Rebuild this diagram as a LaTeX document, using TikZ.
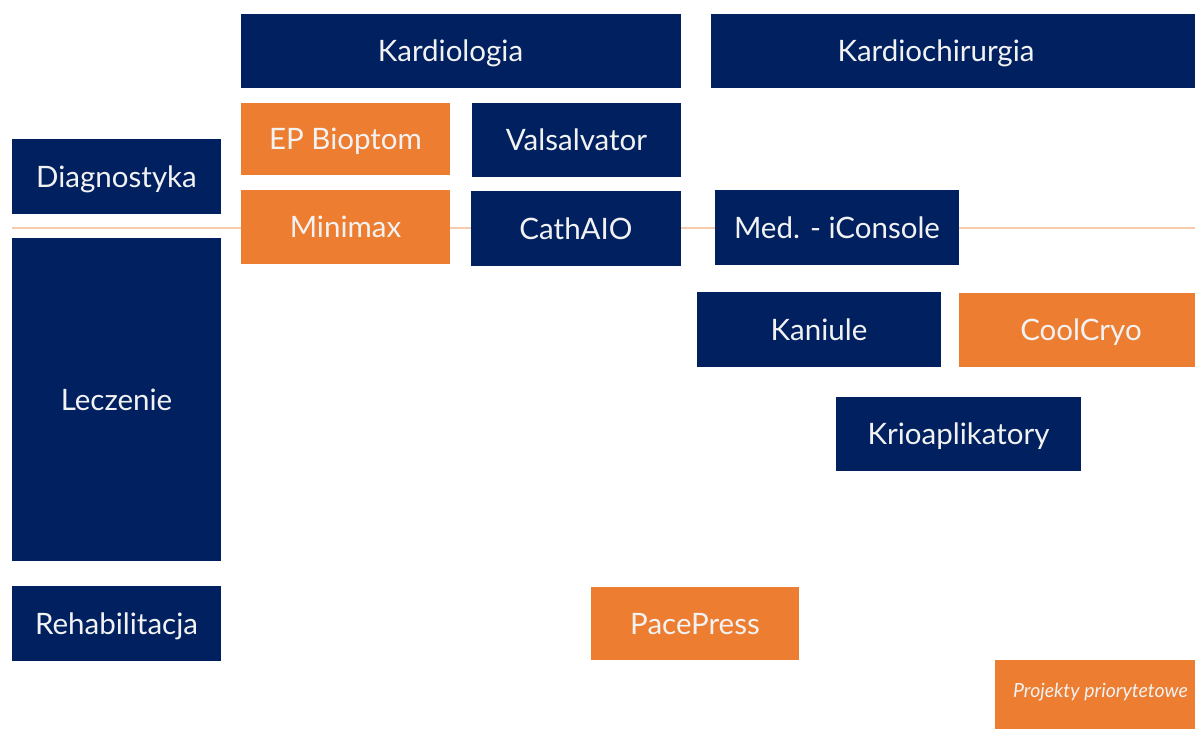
\documentclass[tikz,border=0pt]{standalone}
\usepackage{fontspec}
\setmainfont{Lato}
\definecolor{navy}{HTML}{002060}
\definecolor{orng}{HTML}{ED7D31}
\definecolor{lorng}{HTML}{F8CBAD}
\definecolor{txt}{HTML}{F2F2F2}
\tikzset{
  boxbase/.style={inner sep=0pt, text=txt, font=\fontsize{29.5}{34}\selectfont,
    text height=21.5pt, text depth=0pt, anchor=center},
  navybox/.style={boxbase, fill=navy},
  orngbox/.style={boxbase, fill=orng},
  sz/.style 2 args={minimum width=#1pt, minimum height=#2pt},
  hline/.style={draw=lorng, line width=1.6pt}
}
\begin{document}
\begin{tikzpicture}[x=1pt,y=-1pt]
\useasboundingbox (0,0) rectangle (1195,729);
\fill[white] (0,0) rectangle (1195,729);
% connectors line
\coordinate (lstart) at (12,228);
\coordinate (lend) at (1195,228);
\draw[hline] (lstart) -- (lend);
% column headers
\node[navybox, sz={440}{74}] (kard) at (461,51) {\hspace*{-21pt}Kardiologia};
\node[navybox, sz={484}{74}] (kchir) at (953,51) {\hspace*{-34pt}Kardiochirurgia};
% row headers
\node[navybox, sz={209}{75}] (diag) at (116.5,176.5) {Diagnostyka};
\node[navybox, sz={209}{323}] (lecz) at (116.5,399.5) {Leczenie};
\node[navybox, sz={209}{75}] (rehab) at (116.5,623.5) {Rehabilitacja};
% projects
\node[orngbox, sz={209}{72}] (ep) at (345.5,139) {EP Bioptom};
\node[navybox, sz={209}{74}] (vals) at (576.5,140) {Valsalvator};
\node[orngbox, sz={209}{74}] (mini) at (345.5,227) {Minimax};
\node[navybox, sz={210}{75}] (cath) at (576,228.5) {CathAIO};
\node[navybox, sz={244}{75}] (icons) at (837,227.5) {Med. - iConsole};
\node[navybox, sz={244}{75}] (kan) at (819,329.5) {Kaniule};
\node[orngbox, sz={236}{74}] (cool) at (1077,330) {\hspace*{8pt}CoolCryo};
\node[navybox, sz={245}{74}] (krio) at (958.5,434) {Krioaplikatory};
\node[orngbox, sz={208}{73}] (pace) at (695,623.5) {PacePress};
% legend
\node[orngbox, sz={200}{69}, text height=5pt, font=\itshape\fontsize{19.5}{23}\selectfont] (leg) at (1095,694.5) {\hspace*{11pt}Projekty priorytetowe};
\end{tikzpicture}
\end{document}
